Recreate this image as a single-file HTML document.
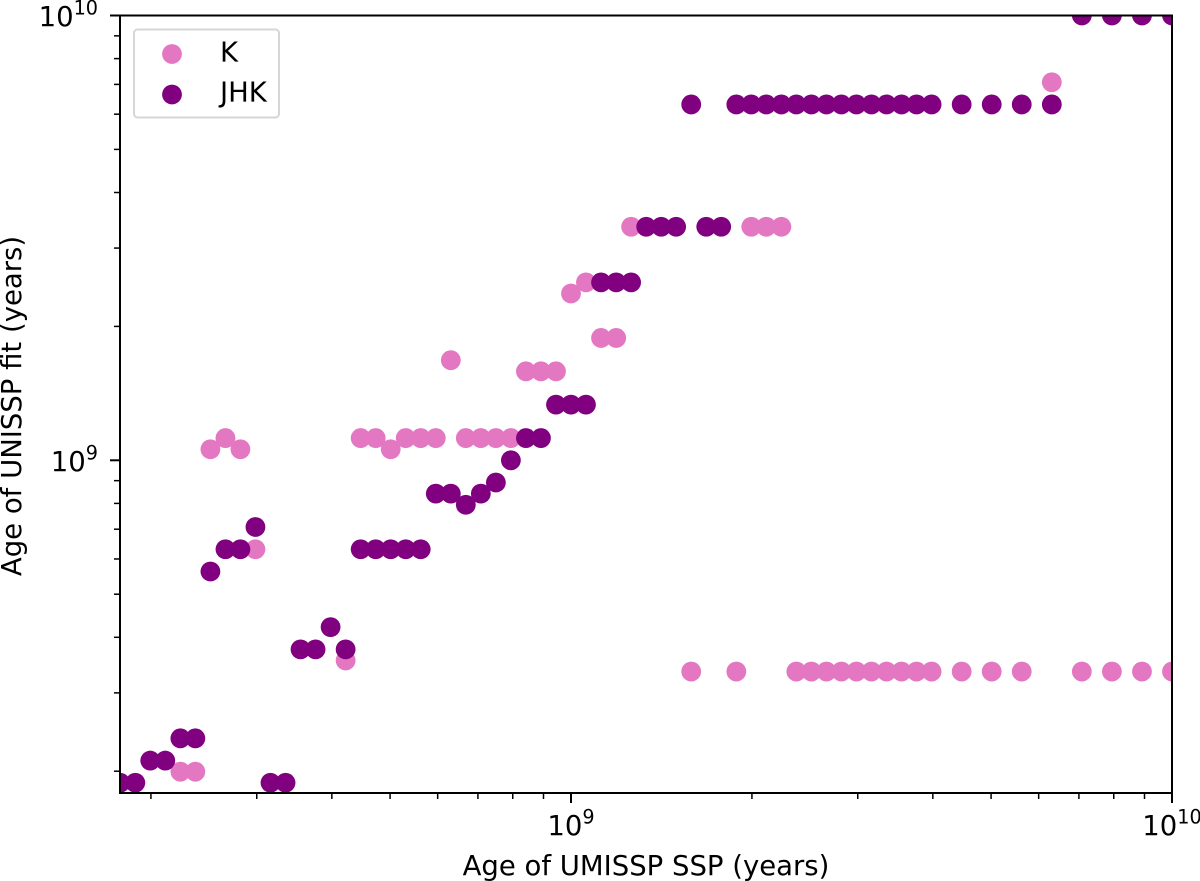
<!DOCTYPE html>
<html lang="en">
<head>
<meta charset="utf-8">
<title>Age of UNISSP fit vs SSP age</title>
<style>
html,body{margin:0;padding:0;background:#fff;}
svg{display:block;}
text{font-family:"DejaVu Sans","Liberation Sans",sans-serif;fill:#000;}
</style>
</head>
<body>
<svg id="chart" width="1200" height="881" viewBox="0 0 1200 881" xmlns="http://www.w3.org/2000/svg">
  <defs><clipPath id="plot-clip"><rect x="120" y="15.5" width="1052" height="777.5"></rect></clipPath></defs>
  <rect x="0" y="0" width="1200" height="881" fill="#fff"></rect>
  <g id="k-series" clip-path="url(#plot-clip)"></g>
  <g id="jhk-series" clip-path="url(#plot-clip)"></g>
  <g id="x-axis"></g>
  <g id="y-axis"></g>
  <rect x="120" y="15.5" width="1052" height="777.5" fill="none" stroke="#000" stroke-width="2"></rect>
  <text x="646" y="875" font-size="27.5" text-anchor="middle">Age of UMISSP SSP (years)</text>
  <text transform="translate(21 406) rotate(-90)" font-size="27.5" text-anchor="middle">Age of UNISSP fit (years)</text>
  <g>
    <rect x="134" y="29.5" width="145" height="88" rx="3.5" fill="#fff" fill-opacity="0.8" stroke="#d6d6d6" stroke-width="2"></rect>
    <circle cx="172" cy="54" r="9.9" fill="#e377c2"></circle>
    <text x="220" y="61.5" font-size="27.5">K</text>
    <circle cx="172" cy="94.5" r="9.9" fill="#800080"></circle>
    <text x="220" y="101.5" font-size="27.5">JHK</text>
  </g>
</svg>
<script>
const kAgeSSP = [2.239e8,2.371e8,2.512e8,2.661e8,2.818e8,2.985e8,4.217e8,4.467e8,4.732e8,5.012e8,5.309e8,5.623e8,5.957e8,6.310e8,6.683e8,7.079e8,7.499e8,7.943e8,8.414e8,8.913e8,9.441e8,1e9,1.059e9,1.122e9,1.189e9,1.259e9,1.995e9,2.113e9,2.239e9,6.310e9,1.585e9,1.884e9,2.371e9,2.512e9,2.661e9,2.818e9,2.985e9,3.162e9,3.350e9,3.548e9,3.758e9,3.981e9,4.467e9,5.012e9,5.623e9,7.079e9,7.943e9,8.913e9,1e10];
const kAgeFit = [1.995e8,1.995e8,1.059e9,1.122e9,1.059e9,6.310e8,3.548e8,1.122e9,1.122e9,1.059e9,1.122e9,1.122e9,1.122e9,1.679e9,1.122e9,1.122e9,1.122e9,1.122e9,1.585e9,1.585e9,1.585e9,2.371e9,2.512e9,1.884e9,1.884e9,3.350e9,3.350e9,3.350e9,3.350e9,7.079e9,3.350e8,3.350e8,3.350e8,3.350e8,3.350e8,3.350e8,3.350e8,3.350e8,3.350e8,3.350e8,3.350e8,3.350e8,3.350e8,3.350e8,3.350e8,3.350e8,3.350e8,3.350e8,3.350e8];
const jhkAgeSSP = [1.778e8,1.884e8,1.995e8,2.113e8,2.239e8,2.371e8,2.512e8,2.661e8,2.818e8,2.985e8,3.162e8,3.350e8,3.548e8,3.758e8,3.981e8,4.217e8,4.467e8,4.732e8,5.012e8,5.309e8,5.623e8,5.957e8,6.310e8,6.683e8,7.079e8,7.499e8,7.943e8,8.414e8,8.913e8,9.441e8,1e9,1.059e9,1.122e9,1.189e9,1.259e9,1.334e9,1.413e9,1.496e9,1.585e9,1.679e9,1.778e9,1.884e9,1.995e9,2.113e9,2.239e9,2.371e9,2.512e9,2.661e9,2.818e9,2.985e9,3.162e9,3.350e9,3.548e9,3.758e9,3.981e9,4.467e9,5.012e9,5.623e9,6.310e9,7.079e9,7.943e9,8.913e9,1e10];
const jhkAgeFit = [1.884e8,1.884e8,2.113e8,2.113e8,2.371e8,2.371e8,5.623e8,6.310e8,6.310e8,7.079e8,1.884e8,1.884e8,3.758e8,3.758e8,4.217e8,3.758e8,6.310e8,6.310e8,6.310e8,6.310e8,6.310e8,8.414e8,8.414e8,7.943e8,8.414e8,8.913e8,1e9,1.122e9,1.122e9,1.334e9,1.334e9,1.334e9,2.512e9,2.512e9,2.512e9,3.350e9,3.350e9,3.350e9,6.310e9,3.350e9,3.350e9,6.310e9,6.310e9,6.310e9,6.310e9,6.310e9,6.310e9,6.310e9,6.310e9,6.310e9,6.310e9,6.310e9,6.310e9,6.310e9,6.310e9,6.310e9,6.310e9,6.310e9,6.310e9,1e10,1e10,1e10,1e10];
const majorTicks = [1e9,1e10];
const majorTickExponents = ["9","10"];
const minorTicks = [2e8,3e8,4e8,5e8,6e8,7e8,8e8,9e8,2e9,3e9,4e9,5e9,6e9,7e9,8e9,9e9];

const SVG_NS = 'http://www.w3.org/2000/svg';
const xScale = v => 571 + 601 * Math.log10(v / 1e9);
const yScale = v => 460.3 - 444.8 * Math.log10(v / 1e9);
const make = (tag, attrs) => {
  const el = document.createElementNS(SVG_NS, tag);
  Object.keys(attrs).forEach(k => el.setAttribute(k, attrs[k]));
  return el;
};

function drawSeries(groupId, xs, ys, color, pointName) {
  const group = document.getElementById(groupId);
  xs.forEach((v, i) => {
    const dot = make('circle', {cx: xScale(v), cy: yScale(ys[i]), r: 9.9, fill: color});
    
    
    group.appendChild(dot);
  });
}
drawSeries('k-series', kAgeSSP, kAgeFit, '#e377c2', 'k-point');
drawSeries('jhk-series', jhkAgeSSP, jhkAgeFit, '#800080', 'jhk-point');

const xAxis = document.getElementById('x-axis');
const yAxis = document.getElementById('y-axis');

function tickLabel(anchor, x, y, exponent) {
  const label = make('text', {x: x, y: y, 'font-size': 27.5, 'text-anchor': anchor});
  const base = make('tspan', {});
  base.textContent = '10';
  const sup = make('tspan', {dy: -11.5, 'font-size': 19.2});
  sup.textContent = exponent;
  label.appendChild(base);
  label.appendChild(sup);
  return label;
}

minorTicks.forEach(v => {
  const xt = make('line', {x1: xScale(v), x2: xScale(v), y1: 793, y2: 799, stroke: '#000', 'stroke-width': 1.5});
  
  
  xAxis.appendChild(xt);
  const yt = make('line', {x1: 114, x2: 120, y1: yScale(v), y2: yScale(v), stroke: '#000', 'stroke-width': 1.5});
  
  
  yAxis.appendChild(yt);
});

majorTicks.forEach((v, i) => {
  const xt = make('line', {x1: xScale(v), x2: xScale(v), y1: 793, y2: 803, stroke: '#000', 'stroke-width': 2});
  
  
  xAxis.appendChild(xt);
  const xl = tickLabel('middle', xScale(v), 835, majorTickExponents[i]);
  
  
  xAxis.appendChild(xl);
  const yt = make('line', {x1: 110, x2: 120, y1: yScale(v), y2: yScale(v), stroke: '#000', 'stroke-width': 2});
  
  
  yAxis.appendChild(yt);
  const yl = tickLabel('end', 98, yScale(v) + 10.5, majorTickExponents[i]);
  
  
  yAxis.appendChild(yl);
});
</script>
</body>
</html>
